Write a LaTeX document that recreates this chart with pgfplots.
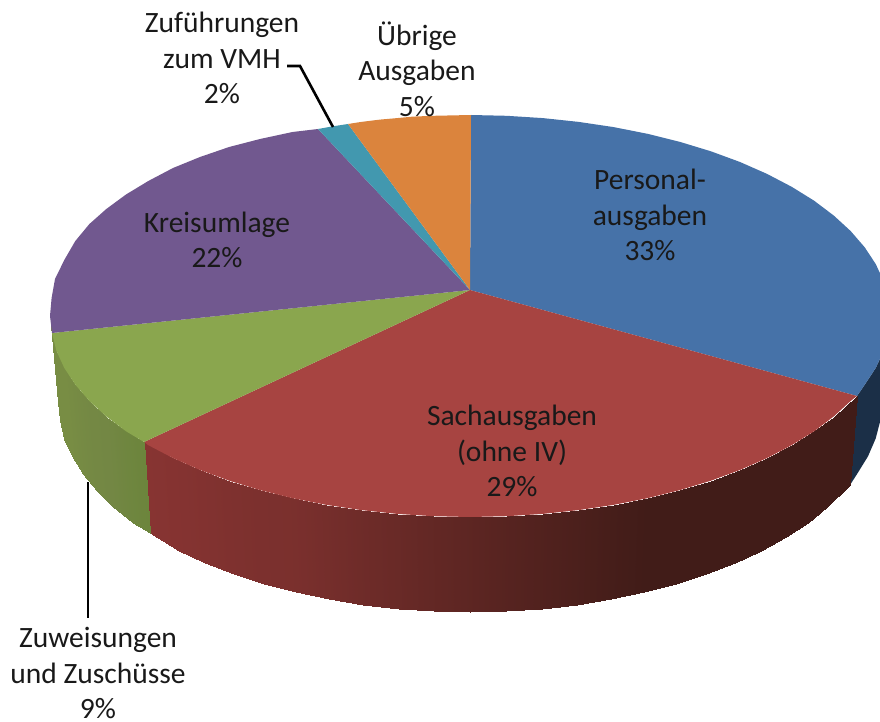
\documentclass[border=0pt]{standalone}
\usepackage{pgfplots}
\usepackage{fontspec}
\setmainfont{Carlito}
\pgfplotsset{compat=1.18}
\definecolor{pblue}{RGB}{70,114,168}
\definecolor{pred}{RGB}{167,68,65}
\definecolor{pgreen}{RGB}{138,166,78}
\definecolor{ppurple}{RGB}{113,88,143}
\definecolor{pteal}{RGB}{66,152,175}
\definecolor{porange}{RGB}{219,132,61}
\definecolor{pnavy}{RGB}{27,47,71}
\definecolor{labeltext}{RGB}{25,25,25}
\tikzset{lbl/.style={align=center,inner sep=0pt,text=labeltext,font=\fontsize{29.5}{35.5}\selectfont}}

\begin{document}
\begin{tikzpicture}
\useasboundingbox (0,0) rectangle (880pt,722pt);
\begin{axis}[
  scale only axis, width=880pt, height=722pt,
  xmin=0, xmax=880, ymin=0, ymax=722, y dir=reverse,
  hide axis, point meta min=0, point meta max=1,
]
% side walls
\addplot[fill=pnavy, draw=none] coordinates {
  (857,396)(864.7,384.7)(875.7,368)(883.6,350.9)(890,340)(890,405)(882,402)
  (880.4,420.3)(875.7,438.5)(868,456.3)(857.2,473.8)(850,485)} -- cycle;
\addplot[surf, shader=interp, mesh/ordering=y varies, mesh/rows=2, point meta=explicit,
  colormap={redside}{rgb255=(65,28,24); rgb255=(135,52,50)}]
  table[meta=m] {
  x y m
  857 396 0
  850 485 0
  833.7 416.5 0
  826.8 507 0
  814.1 431.3 0
  807.5 522.5 0
  791.7 445.2 0
  785.6 537 0
  767 458.1 0
  761.3 550.5 0
  740 470 0
  734.8 562.9 0
  710.9 480.7 0
  706.3 574 0
  680 490.1 0
  676 583.9 0
  647.5 498.2 0
  644.1 592.3 0
  613.6 504.9 0.07
  610.9 599.3 0.07
  578.7 510.1 0.15
  576.6 604.8 0.15
  542.9 513.9 0.23
  541.5 608.8 0.23
  506.6 516.2 0.31
  505.9 611.2 0.31
  470 517 0.40
  470 612 0.40
  433.4 516.2 0.48
  434.1 611.2 0.48
  397.1 513.9 0.57
  398.5 608.8 0.57
  361.3 510.1 0.65
  363.4 604.8 0.65
  326.4 504.9 0.74
  329.1 599.3 0.74
  292.5 498.2 0.82
  295.9 592.3 0.82
  260 490.1 0.84
  264 583.9 0.84
  229.1 480.7 0.88
  233.7 574 0.88
  200 470 0.93
  205.2 562.9 0.93
  173 458.1 0.97
  178.7 550.5 0.97
  144 442 1
  150 533 1
};
\addplot[surf, shader=interp, mesh/ordering=y varies, mesh/rows=2, point meta=explicit,
  colormap={greenside}{rgb255=(108,133,60); rgb255=(115,135,68); rgb255=(120,141,68)}]
  table[meta=m] {
  x y m
  144 442 0
  150 533 0
  126 431.3 0.2
  132.5 522.5 0.2
  106.3 416.5 0.5
  113.2 507 0.5
  89.4 401 0.6
  96.6 490.7 0.6
  75.3 384.7 0.8
  82.8 473.8 0.8
  64.3 368 1
  72 456.3 1
  56.4 350.9 1
  64.3 438.5 1
  52 333 1
  59.6 420.3 1
  51.5 325 1
  58 402 1
};
% top faces
\addplot[fill=pblue, draw=none] coordinates {
  (470,290)(471,115)(506.6,115.8)(542.9,118.1)(578.7,121.9)(613.6,127.1)(647.5,133.8)
  (680,141.9)(710.9,151.3)(740,162)(767,173.9)(791.7,186.8)(814.1,200.7)(833.7,215.5)
  (850.6,231)(864.7,247.3)(875.7,264)(883.6,281.1)(888.4,298.5)(890,316)(888.4,333.5)
  (883.6,350.9)(875.7,368)(864.7,384.7)(857,396)} -- cycle;
\addplot[fill=pred, draw=none] coordinates {
  (470,290)(857,396)(850.6,401)(833.7,416.5)(814.1,431.3)(791.7,445.2)(767,458.1)
  (740,470)(710.9,480.7)(680,490.1)(647.5,498.2)(613.6,504.9)(578.7,510.1)(542.9,513.9)
  (506.6,516.2)(470,517)(433.4,516.2)(397.1,513.9)(361.3,510.1)(326.4,504.9)(292.5,498.2)
  (260,490.1)(229.1,480.7)(200,470)(173,458.1)(148.3,445.2)(144,442)} -- cycle;
\addplot[fill=pgreen, draw=none] coordinates {
  (470,290)(144,442)(126,431.3)(106.3,416.5)(89.4,401)(75.3,384.7)(64.3,368)
  (56.4,350.9)(52,333)} -- cycle;
\addplot[fill=ppurple, draw=none] coordinates {
  (470,290)(52,333)(50,316)(51.6,298)(55,279)(64.3,260)(75.3,241)(89.4,224)(106.3,209)
  (126,194.5)(148.3,181)(173,168)(200,157)(229.1,147)(260,139)(292.5,132)(318,129)} -- cycle;
\addplot[fill=pteal, draw=none] coordinates {
  (470,290)(318,129)(333,126.3)(348,124)} -- cycle;
\addplot[fill=porange, draw=none] coordinates {
  (470,290)(348,124)(361.3,121.9)(380,119.6)(397.1,118.1)(413,116.6)(433.4,115.8)(471,115)} -- cycle;
% leader lines
\addplot[black, line width=2.6pt] coordinates {(88,482)(88,618)};
\addplot[black, line width=2.6pt] coordinates {(287,66)(300,66)(333,127)};
% labels
\node[lbl] at (axis cs:650,215) {Personal-\\ausgaben\\33\%};
\node[lbl] at (axis cs:512,451) {Sachausgaben\\(ohne IV)\\29\%};
\node[lbl] at (axis cs:217,240) {Kreisumlage\\22\%};
\node[lbl] at (axis cs:222,58) {Zuführungen\\zum VMH\\2\%};
\node[lbl] at (axis cs:417,69) {Übrige\\Ausgaben\\5\%};
\node[lbl] at (axis cs:98,673) {Zuweisungen\\und Zuschüsse\\9\%};
\end{axis}
\end{tikzpicture}
\end{document}
